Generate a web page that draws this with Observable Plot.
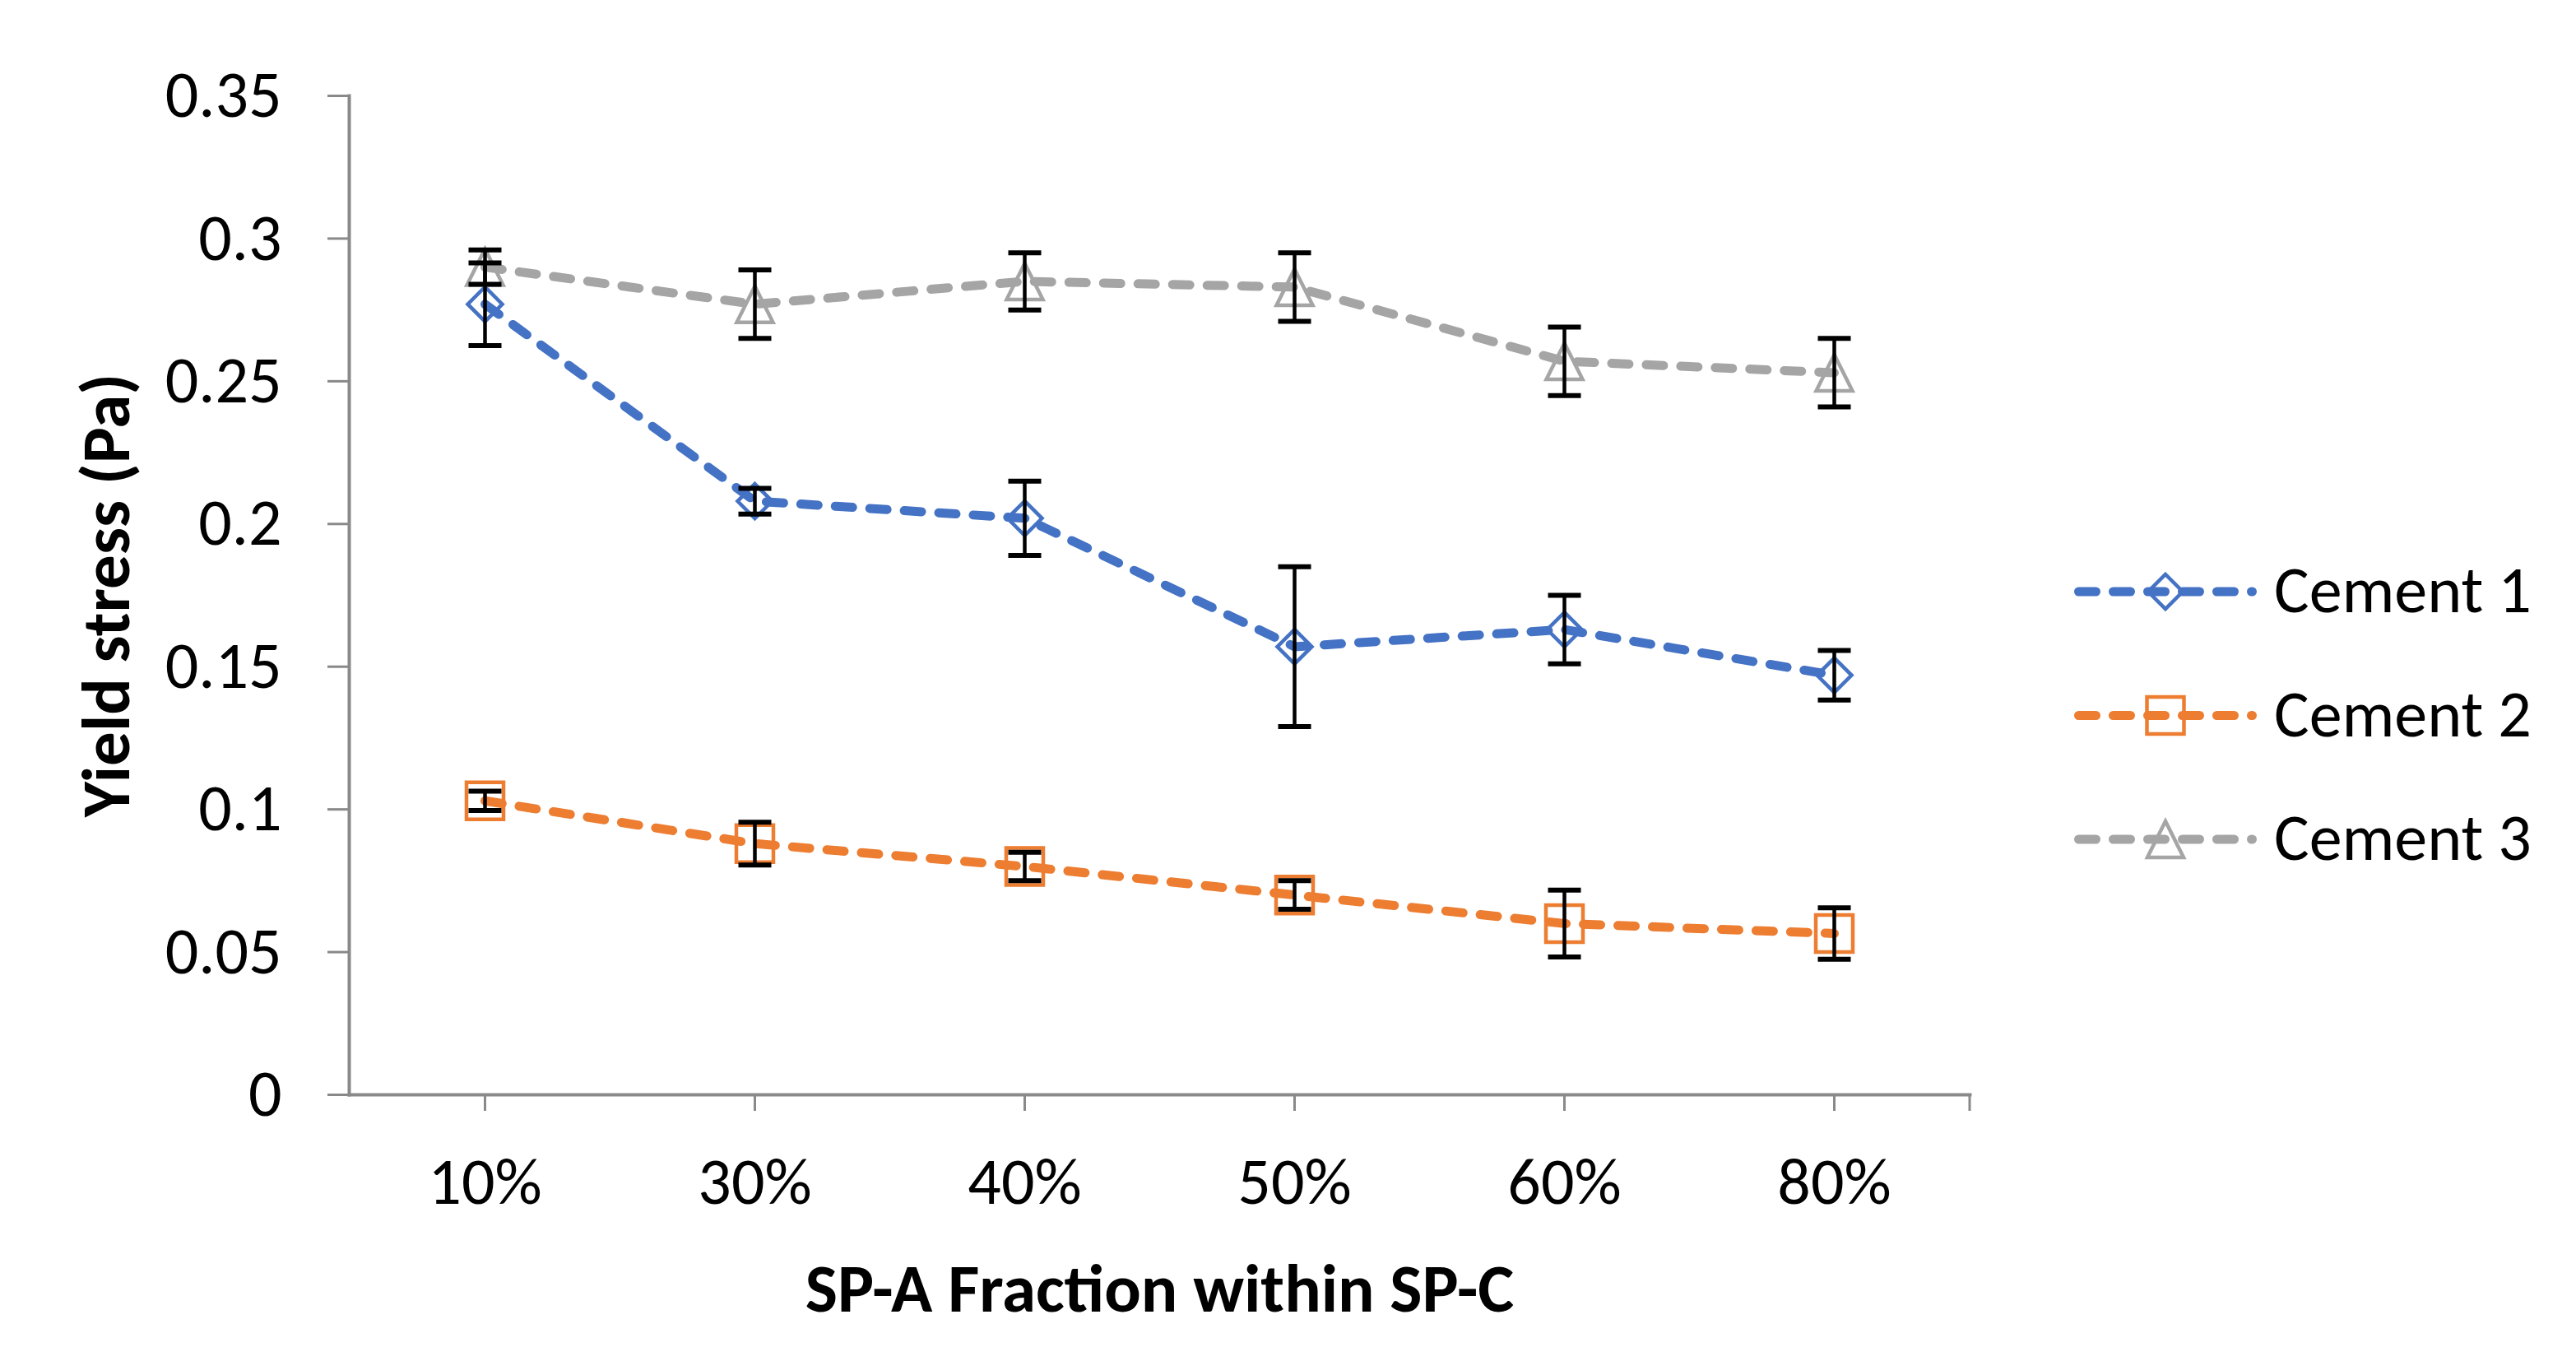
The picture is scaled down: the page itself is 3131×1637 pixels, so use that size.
<!DOCTYPE html>
<html><head><meta charset="utf-8">
<script src="https://cdn.jsdelivr.net/npm/d3@7"></script>
<script src="https://cdn.jsdelivr.net/npm/@observablehq/plot@0.6"></script>
<style>
html,body{margin:0;padding:0;background:#fff;}
#wrap{position:relative;width:3131px;height:1637px;overflow:hidden;background:#fff;}
#legend{position:absolute;left:0;top:0;pointer-events:none;}
</style></head><body><div id="wrap"></div>
<script>
// ---- data ----
const categories = ["10%", "30%", "40%", "50%", "60%", "80%"];
const seriesNames = ["Cement 1", "Cement 2", "Cement 3"];
const cement1 = [0.277, 0.208, 0.202, 0.157, 0.163, 0.147];
const cement1Err = [0.0145, 0.0045, 0.013, 0.028, 0.012, 0.0087];
const cement2 = [0.103, 0.088, 0.080, 0.070, 0.060, 0.0565];
const cement2Err = [0.0034, 0.0075, 0.005, 0.005, 0.0117, 0.009];
const cement3 = [0.290, 0.277, 0.285, 0.283, 0.257, 0.253];
const cement3Err = [0.006, 0.012, 0.010, 0.012, 0.012, 0.012];
const yTicks = [0, 0.05, 0.1, 0.15, 0.2, 0.25, 0.3, 0.35];
const yTickLabels = ["0", "0.05", "0.1", "0.15", "0.2", "0.25", "0.3", "0.35"];
const colors = ["#4472C4", "#ED7D31", "#A5A5A5"];
const xTitle = "SP-A Fraction within SP-C";
const yTitle = "Yield stress (Pa)";

// ---- symbols (Excel-like markers) ----
const rad = size => Math.sqrt(size / Math.PI);
const diamondSym = {draw(c, s) {const r = rad(s); c.moveTo(0, -r); c.lineTo(r, 0); c.lineTo(0, r); c.lineTo(-r, 0); c.closePath();}};
const squareSym = {draw(c, s) {const r = rad(s); c.moveTo(-r, -r); c.lineTo(r, -r); c.lineTo(r, r); c.lineTo(-r, r); c.closePath();}};
const triangleSym = {draw(c, s) {const r = rad(s); c.moveTo(0, -r); c.lineTo(r, r); c.lineTo(-r, r); c.closePath();}};
const capSym = {draw(c, s) {const r = rad(s); c.moveTo(-r, 0); c.lineTo(r, 0);}};
const symbols = [diamondSym, squareSym, triangleSym];
const symR = [21, 22.5, 22];

const values = [cement1, cement2, cement3];
const errors = [cement1Err, cement2Err, cement3Err];
const rows = [];
seriesNames.forEach((s, k) => categories.forEach((c, i) => rows.push({
  series: s, k, cat: c, value: values[k][i], lo: values[k][i] - errors[k][i], hi: values[k][i] + errors[k][i]
})));

const FONT = "Carlito, Lato, sans-serif";
const axisGray = "#898989";
const dash = "21,21";

const lineMarks = seriesNames.map((s, k) => Plot.line(rows.filter(d => d.k === k), {
  x: "cat", y: "value", stroke: colors[k], strokeWidth: 11, strokeDasharray: dash,
  strokeLinecap: "round", strokeLinejoin: "round"
}));
const dotMarks = seriesNames.map((s, k) => Plot.dot(rows.filter(d => d.k === k), {
  x: "cat", y: "value", symbol: symbols[k], r: symR[k], stroke: colors[k], strokeWidth: 4.5, fill: "none"
}));

const endTick = (index, scales, vals, dims) => {
  const x = dims.width - dims.marginRight;
  const y = dims.height - dims.marginBottom;
  return d3.create("svg:line").attr("x1", x).attr("x2", x).attr("y1", y).attr("y2", y + 20)
    .attr("stroke", axisGray).attr("stroke-width", 3).node();
};

const chart = Plot.plot({
  width: 3131, height: 1637,
  marginLeft: 424, marginRight: 737, marginTop: 116, marginBottom: 307,
  style: {fontFamily: FONT, fontSize: "80px", color: "#000", background: "#fff", overflow: "visible"},
  x: {type: "point", domain: categories, padding: 0.5, label: null},
  y: {domain: [0, 0.35], label: null},
  marks: [
    Plot.axisY({ticks: yTicks, tickFormat: d => yTickLabels[yTicks.indexOf(d)], tickSize: 26, tickPadding: 56,
      stroke: axisGray, strokeWidth: 3, fill: "#000", fontSize: 80, label: null}),
    Plot.axisX({tickSize: 20, tickPadding: 56, stroke: axisGray, strokeWidth: 3, fill: "#000", fontSize: 80, label: null}),
    Plot.frame({anchor: "left", stroke: axisGray, strokeWidth: 4}),
    Plot.frame({anchor: "bottom", stroke: axisGray, strokeWidth: 4}),
    endTick,
    Plot.text([xTitle], {frameAnchor: "bottom", dy: 237, textAnchor: "middle", lineAnchor: "middle", fontWeight: "bold", fontSize: 83, fill: "#000"}),
    Plot.text([yTitle], {frameAnchor: "left", dx: -294, rotate: -90, textAnchor: "middle", lineAnchor: "middle", fontWeight: "bold", fontSize: 83, fill: "#000"}),
    ...dotMarks,
    ...lineMarks,
    Plot.ruleX(rows, {x: "cat", y1: "lo", y2: "hi", stroke: "#000", strokeWidth: 4.5}),
    Plot.dot(rows, {x: "cat", y: "hi", symbol: capSym, r: 20, stroke: "#000", strokeWidth: 6, fill: "none"}),
    Plot.dot(rows, {x: "cat", y: "lo", symbol: capSym, r: 20, stroke: "#000", strokeWidth: 6, fill: "none"})
  ]
});
const wrap = document.getElementById("wrap");
wrap.appendChild(chart);

// ---- legend (right side) ----
const leg = d3.select(wrap).append("svg").attr("id", "legend").attr("width", 3131).attr("height", 1637);
const legX0 = 2521, legX1 = 2743, legY0 = 719, legDY = 150.5, legTextX = 2764;
seriesNames.forEach((s, k) => {
  const y = legY0 + k * legDY;
  const g = leg.append("g");
  g.append("path").attr("d", d3.symbol(symbols[k], symR[k] * symR[k] * Math.PI)())
    .attr("transform", `translate(${(legX0 + legX1) / 2},${y})`)
    .attr("fill", "none").attr("stroke", colors[k]).attr("stroke-width", 4.5);
  g.append("line").attr("x1", legX0 + 5.5).attr("x2", legX1 - 5.5).attr("y1", y).attr("y2", y)
    .attr("stroke", colors[k]).attr("stroke-width", 11).attr("stroke-dasharray", dash).attr("stroke-linecap", "round");
  g.append("text").attr("x", legTextX).attr("y", y + 25).attr("font-family", FONT).attr("font-size", 80)
    .attr("fill", "#000").text(s);
});
</script></body></html>
